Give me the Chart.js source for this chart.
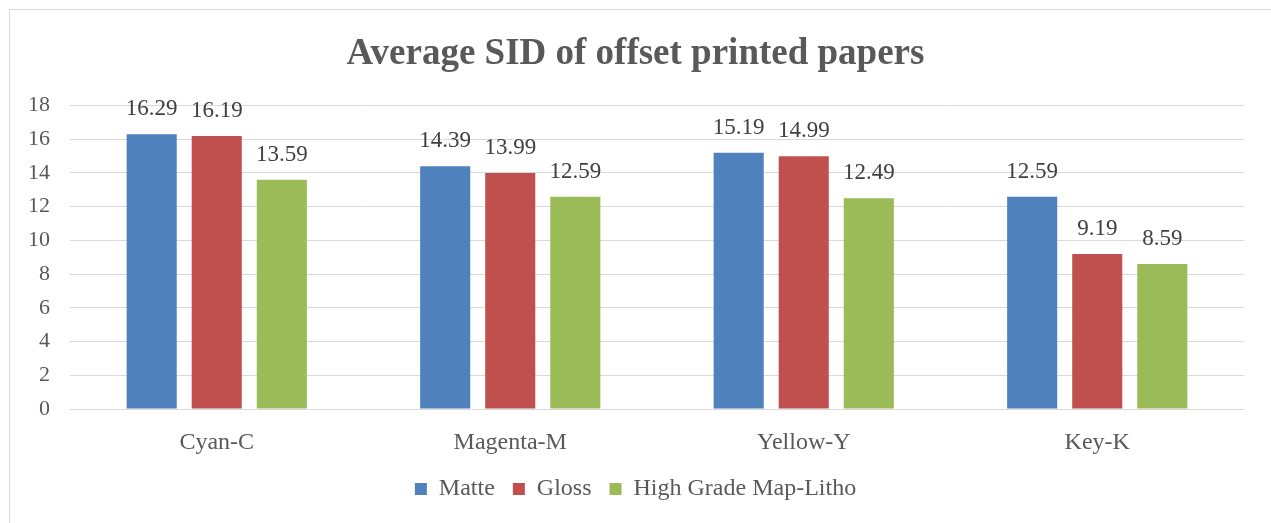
<!DOCTYPE html>
<html>
<head>
<meta charset="utf-8">
<script src="https://cdn.jsdelivr.net/npm/chart.js@4"></script>
<style>
  html, body { margin: 0; padding: 0; background: #fff; }
  #wrap { position: relative; width: 1271px; height: 523px; }
  #frame { position: absolute; left: 9px; top: 9px; right: -2px; bottom: -2px; border: 1px solid #d9d9d9; }
  canvas { position: absolute; left: 0; top: 0; }
</style>
</head>
<body>
<div id="wrap">
  <div id="frame"></div>
  <canvas id="chart" width="1271" height="523"></canvas>
</div>
<script>
// chart data
const categories = ['Cyan-C', 'Magenta-M', 'Yellow-Y', 'Key-K'];
const matte = [16.29, 14.39, 15.19, 12.59];
const gloss = [16.19, 13.99, 14.99, 9.19];
const mapLitho = [13.59, 12.59, 12.49, 8.59];
const seriesNames = ['Matte', 'Gloss', 'High Grade Map-Litho'];
const seriesColors = ['#4F81BD', '#C0504D', '#9BBB59'];

const SERIF = '"Liberation Serif", "Times New Roman", serif';

// draws the value above each bar
const valueLabels = {
    id: 'valueLabels',
    afterDatasetsDraw(chart) {
        const ctx = chart.ctx;
        ctx.save();
        ctx.font = '23px ' + SERIF;
        ctx.fillStyle = '#404040';
        ctx.textAlign = 'center';
        ctx.textBaseline = 'middle';
        chart.data.datasets.forEach((ds, i) => {
            chart.getDatasetMeta(i).data.forEach((bar, j) => {
                ctx.fillText(ds.data[j].toFixed(2), bar.x, bar.y - 25);
            });
        });
        ctx.restore();
    }
};

new Chart(document.getElementById('chart'), {
    type: 'bar',
    data: {
        labels: categories,
        datasets: [matte, gloss, mapLitho].map((d, i) => ({
            label: seriesNames[i],
            data: d,
            backgroundColor: seriesColors[i],
            categoryPercentage: 0.665,
            barPercentage: 0.77
        }))
    },
    options: {
        responsive: false,
        animation: false,
        layout: { padding: { left: 27, right: 27, top: 0, bottom: 12 } },
        scales: {
            x: {
                grid: { display: false, drawTicks: false },
                border: { display: true, color: '#d9d9d9', width: 1 },
                ticks: { color: '#595959', font: { family: SERIF, size: 24 }, padding: 19 },
                afterFit(scale) { scale.height = 50; }
            },
            y: {
                min: 0, max: 18,
                ticks: { stepSize: 2, color: '#595959', font: { family: SERIF, size: 22 }, padding: 20 },
                grid: { color: '#d9d9d9', lineWidth: 1, drawTicks: false },
                border: { display: false },
                afterFit(scale) { scale.width = 43; }
            }
        },
        plugins: {
            title: {
                display: true,
                text: 'Average SID of offset printed papers',
                color: '#595959',
                font: { family: SERIF, size: 37, weight: 'bold' },
                padding: { top: 32, bottom: 29 }
            },
            legend: {
                position: 'bottom',
                labels: {
                    color: '#595959',
                    font: { family: SERIF, size: 24 },
                    boxWidth: 12,
                    boxHeight: 12,
                    padding: 18
                }
            },
            tooltip: { enabled: false }
        }
    },
    plugins: [valueLabels]
});
</script>
</body>
</html>
